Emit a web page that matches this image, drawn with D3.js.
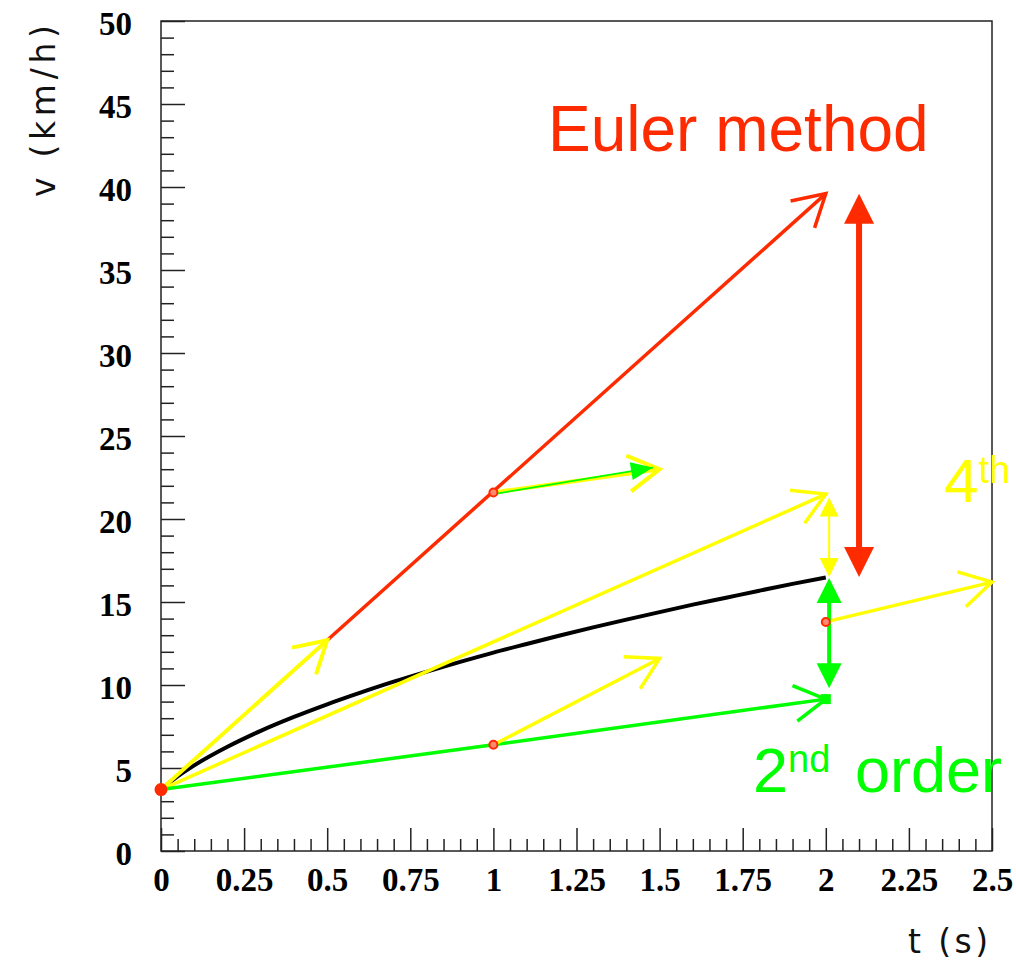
<!DOCTYPE html>
<html>
<head>
<meta charset="utf-8">
<script src="https://cdn.jsdelivr.net/npm/d3@7"></script>
<style>
  body { margin: 0; background: #fff; }
  svg { display: block; }
</style>
</head>
<body>
<div id="chart"></div>
<script>
// Numerical integration steps: Euler vs 2nd order vs 4th order

// exact solution v(t)
const curveT = [0, 0.05, 0.1, 0.2, 0.3, 0.4, 0.5, 0.6, 0.7, 0.8, 0.9, 1.0, 1.1, 1.2, 1.3, 1.4, 1.5, 1.6, 1.7, 1.8, 1.9, 2.0];
const curveV = [3.7, 4.49, 5.16, 6.28, 7.24, 8.08, 8.84, 9.54, 10.2, 10.81, 11.39, 11.95, 12.47, 12.98, 13.47, 13.94, 14.39, 14.84, 15.26, 15.68, 16.09, 16.48];

// Euler step: yellow slope to t=0.5, then red continuation
const eulerFirst = [[0, 3.7], [0.5, 12.7]];
const eulerLine = [[0.5, 12.7], [2, 39.6]];
// slopes at midpoint
const midSlope = [[1, 21.6], [1.5, 23.0]];
const midSlopeGreen = [[1, 21.5], [1.48, 23.1]];
const rk4Slope = [[0, 3.7], [2, 21.5]];
// 2nd order step
const rk2Line = [[0, 3.7], [1, 6.4], [2, 9.15]];
const rk2Slope = [[1, 6.4], [1.5, 11.6]];
const lastSlope = [[2, 13.8], [2.5, 16.2]];
const redPoints = [[0, 3.7], [1, 21.6], [1, 6.4], [2, 13.8]];
const endSquare = [[2, 9.15]];

// error double arrows [t, vTop, vBottom]
const eulerErr = [2.1, 39.6, 16.5];
const rk4Err = [2.01, 21.3, 16.5];
const rk2Err = [2.01, 16.45, 9.8];

const xMajor = [0, 0.25, 0.5, 0.75, 1, 1.25, 1.5, 1.75, 2, 2.25, 2.5];
const yMajor = [0, 5, 10, 15, 20, 25, 30, 35, 40, 45, 50];

const [W, H] = [1016, 962];
const [padL, padR, padT, padB] = [161, 992, 21, 851];
const [red, yellow, green] = ["#ff2b00", "#ffff00", "#00ff00"];

const svg = d3.select("#chart").append("svg")
  .attr("width", W).attr("height", H);

const x = d3.scaleLinear().domain([0, 2.5]).range([padL, padR]);
const y = d3.scaleLinear().domain([0, 50]).range([padB, padT]);

// frame
svg.append("rect")
  .attr("x", padL).attr("y", padT)
  .attr("width", padR - padL).attr("height", padB - padT)
  .attr("fill", "none").attr("stroke", "#222").attr("stroke-width", 1.5);

// axes
const yMinor = d3.range(0, 51).filter(d => d % 5 !== 0);
const xMinor = d3.range(0, 51).map(d => d * 0.05).filter((d, i) => i % 5 !== 0);

const yAxis = svg.append("g").attr("transform", `translate(${padL},0)`)
  .call(d3.axisLeft(y).tickValues(yMajor).tickSizeInner(-24).tickSizeOuter(0).tickPadding(29).tickFormat(d3.format("d")));
svg.append("g").attr("transform", `translate(${padL},0)`)
  .call(d3.axisLeft(y).tickValues(yMinor).tickSizeInner(-13).tickSizeOuter(0).tickFormat(""));

const xAxis = svg.append("g").attr("transform", `translate(0,${padB})`)
  .call(d3.axisBottom(x).tickValues(xMajor).tickSizeInner(-23).tickSizeOuter(0).tickPadding(17).tickFormat(d => String(d)));
svg.append("g").attr("transform", `translate(0,${padB})`)
  .call(d3.axisBottom(x).tickValues(xMinor).tickSizeInner(-12).tickSizeOuter(0).tickFormat(""));

svg.selectAll(".domain").remove();
svg.selectAll(".tick line").attr("stroke", "#222").attr("stroke-width", 1.5);
svg.selectAll(".tick text")
  .style("font-family", "'Liberation Serif', 'DejaVu Serif', serif")
  .style("font-weight", "bold")
  .style("font-size", "33px")
  .attr("fill", "#000");
yAxis.selectAll(".tick text").attr("dy", "0.42em");

// axis titles
svg.append("text")
  .attr("x", 988).attr("y", 953)
  .attr("text-anchor", "end")
  .attr("textLength", 80).attr("lengthAdjust", "spacing")
  .style("font-family", "'DejaVu Sans', sans-serif")
  .style("font-size", "33px")
  .attr("fill", "#111")
  .text("t (s)");

svg.append("text")
  .attr("transform", "translate(55,25) rotate(-90)")
  .attr("text-anchor", "end")
  .attr("textLength", 172).attr("lengthAdjust", "spacing")
  .style("font-family", "'DejaVu Sans', sans-serif")
  .style("font-size", "33px")
  .attr("fill", "#111")
  .text("v (km/h)");

const line = d3.line().x(d => x(d[0])).y(d => y(d[1]));
const plot = svg.append("g");

// exact curve
plot.append("path")
  .datum(curveT.map((t, i) => [t, curveV[i]]))
  .attr("d", d3.line().x(d => x(d[0])).y(d => y(d[1])).curve(d3.curveMonotoneX))
  .attr("fill", "none").attr("stroke", "#000").attr("stroke-width", 4);

// open V arrow head at end of a segment
function openHead(g, pts, color, width) {
  const a = pts[pts.length - 2], b = pts[pts.length - 1];
  const [x1, y1, x2, y2] = [x(a[0]), y(a[1]), x(b[0]), y(b[1])];
  const ang = Math.atan2(y1 - y2, x1 - x2);
  const len = 36, spread = Math.PI / 6;
  const p1 = [x2 + len * Math.cos(ang + spread), y2 + len * Math.sin(ang + spread)];
  const p2 = [x2 + len * Math.cos(ang - spread), y2 + len * Math.sin(ang - spread)];
  g.append("path")
    .attr("d", `M${p1}L${x2},${y2}L${p2}`)
    .attr("fill", "none").attr("stroke", color).attr("stroke-width", width)
    .attr("stroke-linejoin", "miter");
}

function filledHead(g, tip, from, color, len, wid) {
  const [x2, y2, x1, y1] = [x(tip[0]), y(tip[1]), x(from[0]), y(from[1])];
  const ang = Math.atan2(y1 - y2, x1 - x2);
  const bx = x2 + len * Math.cos(ang), by = y2 + len * Math.sin(ang);
  const nx = -Math.sin(ang) * wid / 2, ny = Math.cos(ang) * wid / 2;
  g.append("path")
    .attr("d", `M${x2},${y2}L${bx + nx},${by + ny}L${bx - nx},${by - ny}Z`)
    .attr("fill", color);
}

function arrow(pts, color, width) {
  plot.append("path").datum(pts).attr("d", line)
    .attr("fill", "none").attr("stroke", color).attr("stroke-width", width);
  openHead(plot, pts, color, width);
}

plot.append("path").datum(eulerLine).attr("d", line)
  .attr("fill", "none").attr("stroke", red).attr("stroke-width", 3.5);
openHead(plot, eulerLine, red, 3.5);
arrow(eulerFirst, yellow, 4);
arrow(rk4Slope, yellow, 3.5);
arrow(rk2Line, green, 3.5);
arrow(rk2Slope, yellow, 3.5);
arrow(lastSlope, yellow, 3.5);
arrow(midSlope, yellow, 4);

// thin green slope with filled head
plot.append("path").datum(midSlopeGreen).attr("d", line)
  .attr("fill", "none").attr("stroke", green).attr("stroke-width", 1.8);
filledHead(plot, midSlopeGreen[1], midSlopeGreen[0], green, 22, 18);

// double arrows
function doubleArrow(err, color, width, head) {
  const [t, vTop, vBot] = err;
  const g = plot.append("g");
  g.append("line")
    .attr("x1", x(t)).attr("x2", x(t))
    .attr("y1", y(vTop) + head - 2).attr("y2", y(vBot) - head + 2)
    .attr("stroke", color).attr("stroke-width", width);
  filledHead(g, [t, vTop], [t, vBot], color, head, head);
  filledHead(g, [t, vBot], [t, vTop], color, head, head);
}
doubleArrow(eulerErr, red, 6, 30);
doubleArrow(rk4Err, yellow, 2, 19);
doubleArrow(rk2Err, green, 4, 25);

// markers
plot.selectAll("rect.sq").data(endSquare).join("rect")
  .attr("class", "sq")
  .attr("x", d => x(d[0]) - 5).attr("y", d => y(d[1]) - 5)
  .attr("width", 10).attr("height", 10).attr("fill", green);

plot.selectAll("circle.pt").data(redPoints).join("circle")
  .attr("class", "pt")
  .attr("cx", d => x(d[0])).attr("cy", d => y(d[1]))
  .attr("r", (d, i) => i === 0 ? 5.5 : 4)
  .attr("fill", (d, i) => i === 0 ? red : "#ff8a70")
  .attr("stroke", red).attr("stroke-width", 2);

// labels
const labelFont = "'Liberation Sans', Arial, sans-serif";
svg.append("text")
  .attr("x", 548).attr("y", 151)
  .attr("fill", red)
  .style("font-family", labelFont).style("font-size", "64px")
  .text("Euler method");

const fourth = svg.append("text")
  .attr("x", 944).attr("y", 502)
  .attr("fill", yellow)
  .style("font-family", labelFont).style("font-size", "62px");
fourth.append("tspan").text("4");
fourth.append("tspan").attr("dy", -19).style("font-size", "38px").text("th");

const second = svg.append("text")
  .attr("x", 753).attr("y", 792)
  .attr("fill", green)
  .style("font-family", labelFont).style("font-size", "63px");
second.append("tspan").text("2");
second.append("tspan").attr("dy", -20).style("font-size", "38px").text("nd");
second.append("tspan").attr("x", 855).attr("dy", 20).text("order");
</script>
</body>
</html>
